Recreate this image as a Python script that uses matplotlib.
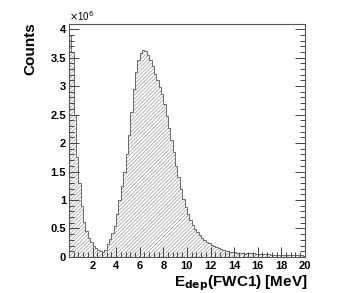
import numpy as np
import matplotlib
matplotlib.use('Agg')
import matplotlib.pyplot as plt
from matplotlib.ticker import MultipleLocator, FuncFormatter

plt.rcParams['font.family'] = ['Liberation Sans', 'DejaVu Sans']
plt.rcParams['hatch.linewidth'] = 0.5

# E_dep(FWC1) histogram, 0.2 MeV bins from 0 to 20 MeV, counts in units of 1e6
bin_edges = np.linspace(0, 20, 101)
counts = [
    3.90, 3.60, 2.50, 1.75, 1.30, 0.90, 0.62, 0.45, 0.34, 0.26,
    0.20, 0.16, 0.13, 0.10, 0.09, 0.13, 0.22, 0.32, 0.42, 0.55,
    0.75, 1.00, 1.25, 1.50, 1.80, 2.15, 2.55, 2.95, 3.25, 3.45,
    3.58, 3.64, 3.62, 3.55, 3.45, 3.35, 3.22, 3.10, 2.98, 2.87,
    2.68, 2.48, 2.27, 2.05, 1.84, 1.60, 1.40, 1.20, 1.02, 0.88,
    0.75, 0.65, 0.56, 0.49, 0.43, 0.38, 0.34, 0.30, 0.27, 0.24,
    0.21, 0.19, 0.17, 0.15, 0.14, 0.12, 0.11, 0.10, 0.09, 0.085,
    0.08, 0.075, 0.07, 0.065, 0.06, 0.07, 0.075, 0.07, 0.065, 0.06,
    0.055, 0.05, 0.05, 0.048, 0.045, 0.042, 0.04, 0.04, 0.038, 0.036,
    0.035, 0.034, 0.033, 0.032, 0.03, 0.03, 0.028, 0.027, 0.026, 0.025,
]
vals = np.array(counts) * 1e6

fig = plt.figure(figsize=(3.43, 2.93), dpi=100)
ax = fig.add_axes([0.201, 0.123, 0.688, 0.795])

ax.stairs(vals, bin_edges, fill=True, facecolor='none', edgecolor='#9a9a9a',
          hatch='/////////', linewidth=0)
ax.stairs(vals, bin_edges, fill=False, color='#555555', linewidth=0.6)

ax.set_xlim(0, 20)
ax.set_ylim(0, 4.09e6)

ax.xaxis.set_major_locator(MultipleLocator(2))
ax.xaxis.set_minor_locator(MultipleLocator(0.4))
ax.yaxis.set_major_locator(MultipleLocator(0.5e6))
ax.yaxis.set_minor_locator(MultipleLocator(0.1e6))
ax.xaxis.set_major_formatter(FuncFormatter(lambda v, p: '' if v == 0 else '%g' % v))
ax.yaxis.set_major_formatter(FuncFormatter(lambda v, p: '%g' % (v / 1e6)))

ax.tick_params(which='both', direction='in', right=True, top=False,
               width=0.7, color='#444444', labelsize=8)
ax.tick_params(which='major', length=7)
ax.tick_params(which='minor', length=3.5)
for lab in ax.get_xticklabels() + ax.get_yticklabels():
    lab.set_fontweight('bold')
ax.tick_params(axis='x', pad=3)
ax.tick_params(axis='y', pad=2)

for s in ax.spines.values():
    s.set_linewidth(0.8)
    s.set_color('#555555')

ax.text(0.0, 1.005, r'$\times$10$^6$', transform=ax.transAxes, fontsize=7,
        ha='left', va='bottom')
fig.text(0.09, 0.925, 'Counts', rotation=90, ha='center', va='top',
         fontsize=11, fontweight='bold')
fig.text(0.898, 0.0, r'E$_{\mathbf{dep}}$(FWC1) [MeV]', ha='right', va='bottom',
         fontsize=11, fontweight='bold')

fig.savefig('out.png', dpi=100)
